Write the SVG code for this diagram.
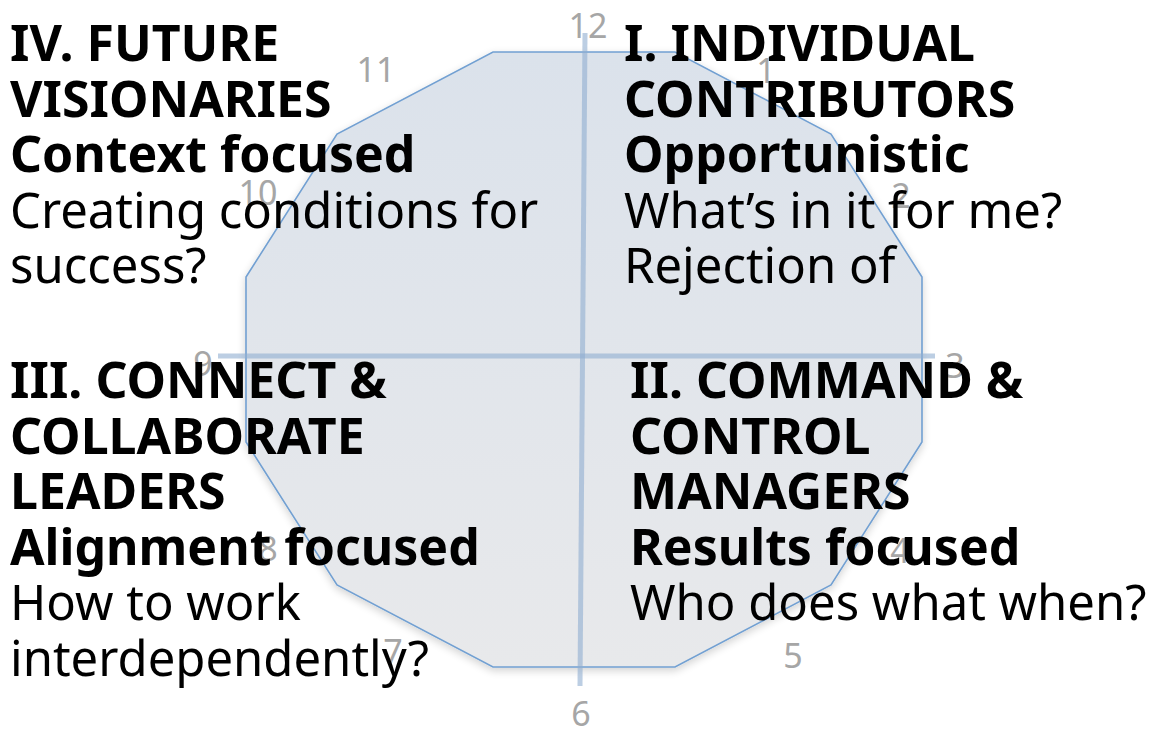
<svg xmlns="http://www.w3.org/2000/svg" width="1150" height="729" viewBox="0 0 1150 729">
  <defs>
    <linearGradient id="faceFill" x1="0" y1="0" x2="0" y2="1">
      <stop offset="0" stop-color="#dbe2eb"/>
      <stop offset="1" stop-color="#e8e9eb"/>
    </linearGradient>
    <filter id="softShadow" x="-10%" y="-10%" width="120%" height="125%">
      <feGaussianBlur in="SourceAlpha" stdDeviation="4"/>
      <feOffset dx="0" dy="3" result="blur"/>
      <feComponentTransfer><feFuncA type="linear" slope="0.18"/></feComponentTransfer>
      <feMerge><feMergeNode/><feMergeNode in="SourceGraphic"/></feMerge>
    </filter>
    <style>
      .face { fill: url(#faceFill); stroke: #72a0d2; stroke-width: 1.6; stroke-linejoin: miter; }
      .axis { stroke: #8fadd0; stroke-opacity: 0.6; stroke-width: 5; fill: none; }
      .hour { font-family: "Noto Sans", "DejaVu Sans", sans-serif; font-size: 34px; fill: #a6a6a6; text-anchor: middle; }
      .head { font-family: "Noto Sans", "DejaVu Sans", sans-serif; font-size: 50px; font-weight: bold; fill: #000; }
      .body { font-family: "Noto Sans", "DejaVu Sans", sans-serif; font-size: 49px; fill: #000; }
    </style>
  </defs>

  <rect width="1150" height="729" fill="#ffffff"/>

  <!-- clock face: dodecagon -->
  <g id="clock-face" filter="url(#softShadow)">
    <polygon class="face" points="493,52 675,52 831,134 922,277 922,442 831,585 675,667 493,667 337,585 246,442 246,277 337,134"/>
  </g>

  <!-- quadrant axes -->
  <g id="connectors">
    <line class="axis" x1="585" y1="33" x2="580" y2="686"/>
    <line class="axis" x1="218" y1="356" x2="935" y2="356"/>
  </g>

  <!-- hour marks -->
  <g id="hours">
    <text class="hour" x="588" y="38">12</text>
    <text class="hour" x="766" y="83">1</text>
    <text class="hour" x="901" y="208">2</text>
    <text class="hour" x="955" y="378">3</text>
    <text class="hour" x="900" y="563">4</text>
    <text class="hour" x="793" y="668">5</text>
    <text class="hour" x="581" y="726">6</text>
    <text class="hour" x="393" y="664">7</text>
    <text class="hour" x="268" y="561">8</text>
    <text class="hour" x="203" y="376">9</text>
    <text class="hour" x="258" y="205">10</text>
    <text class="hour" x="376" y="82">11</text>
  </g>

  <!-- quadrant IV -->
  <g id="quadrant-iv">
    <text class="head" x="10" y="61">IV. FUTURE</text>
    <text class="head" x="10" y="116.5">VISIONARIES</text>
    <text class="head" x="10" y="172">Context focused</text>
    <text class="body" x="10" y="227.5">Creating conditions for</text>
    <text class="body" x="10" y="283">success?</text>
  </g>

  <!-- quadrant I -->
  <g id="quadrant-i">
    <text class="head" x="624" y="61">I. INDIVIDUAL</text>
    <text class="head" x="624" y="116.5">CONTRIBUTORS</text>
    <text class="head" x="624" y="172">Opportunistic</text>
    <text class="body" x="624" y="227.5">What’s in it for me?</text>
    <text class="body" x="624" y="283">Rejection of</text>
  </g>

  <!-- quadrant III -->
  <g id="quadrant-iii">
    <text class="head" x="10" y="398">III. CONNECT &amp;</text>
    <text class="head" x="10" y="453.5">COLLABORATE</text>
    <text class="head" x="10" y="509">LEADERS</text>
    <text class="head" x="10" y="564.5">Alignment focused</text>
    <text class="body" x="10" y="620">How to work</text>
    <text class="body" x="10" y="675.5">interdependently?</text>
  </g>

  <!-- quadrant II -->
  <g id="quadrant-ii">
    <text class="head" x="630" y="398">II. COMMAND &amp;</text>
    <text class="head" x="630" y="453.5">CONTROL</text>
    <text class="head" x="630" y="509">MANAGERS</text>
    <text class="head" x="630" y="564.5">Results focused</text>
    <text class="body" x="630" y="620">Who does what when?</text>
  </g>
</svg>
